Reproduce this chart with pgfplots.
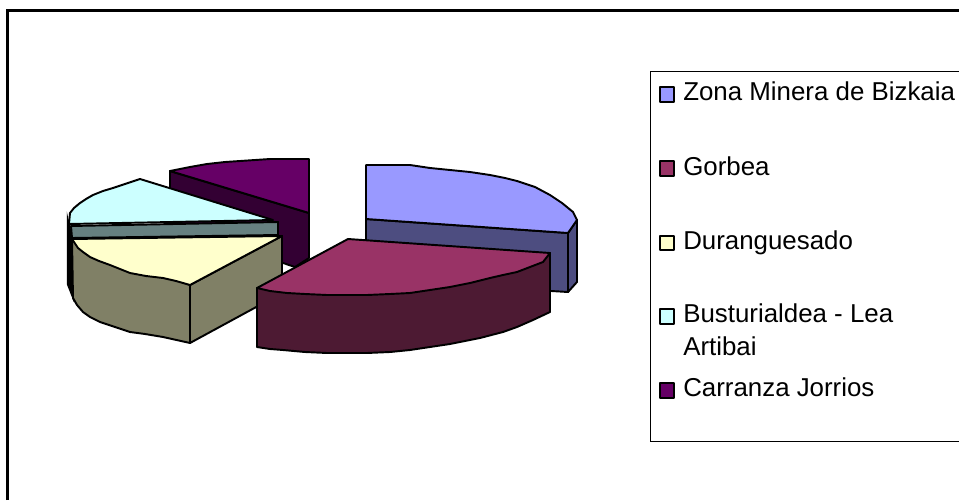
\documentclass[border=0pt]{standalone}
\usepackage{pgfplots}
\pgfplotsset{compat=1.18}
\usepackage{fontspec}
\setmainfont{Liberation Sans}
\definecolor{cBlue}{HTML}{9999FF}\definecolor{sBlue}{HTML}{4D4D80}
\definecolor{cMar}{HTML}{993366}\definecolor{sMar}{HTML}{4D1A33}
\definecolor{cYel}{HTML}{FFFFCC}\definecolor{sYel}{HTML}{808066}
\definecolor{cCya}{HTML}{CCFFFF}\definecolor{sCya}{HTML}{668080}
\definecolor{cPur}{HTML}{660066}\definecolor{sPur}{HTML}{330033}
\pgfplotsset{pie/.style={draw=black,line width=1.45pt,line join=round,no markers,fill=#1}}
\newcommand{\leg}[2]{\node[anchor=base west,inner sep=0pt,font=\fontsize{19.4pt}{22pt}\selectfont] at (axis cs:683,#1) {#2};}
\begin{document}
\begin{tikzpicture}
\begin{axis}[hide axis,scale only axis,width=719.25pt,height=375pt,
  xmin=0,xmax=959,ymin=0,ymax=500,y dir=reverse]
\addplot[draw=none,no markers] coordinates {(0,0)(959,500)};
% frame
\addplot[draw=black,line width=1.6pt,no markers] coordinates {(7.5,500)(7.5,10.5)(959,10.5)};
\addplot[draw=black,line width=0.75pt,no markers] coordinates {(959,71)(650.5,71)(650.5,441.5)(959,441.5)};
% blue
\addplot[pie=sBlue] coordinates {(366,219)(568,233)(568,292)(366,280)} --cycle;
\addplot[pie=sBlue] coordinates {(568,233)(577,220)(577,282)(568,292)} --cycle;
\addplot[pie=cBlue] coordinates {(366,165)(410,165)(430,168)(450,170)(470,172)(490,175)(505,178)(517,181)(535,187)(550,195)(562,203)(573,212)(577,220)(568,233)(366,219)} --cycle;
% purple
\addplot[pie=sPur] coordinates {(170,171)(309,213)(309,258)(295,267)(170,225)} --cycle;
\addplot[pie=cPur] coordinates {(170,171)(190,167)(207,164)(225,162)(240,161)(270,159)(309,159)(309,213)} --cycle;
% cyan
\addplot[draw=black,fill=black,line width=1.1pt,no markers] coordinates {(67.5,218)(72,238)(73,298)(67.5,284)} --cycle;
\addplot[pie=cCya] coordinates {(140,179)(125,184)(113,188)(103,191)(93,195)(86,199)(80,203)(74,208)(70,213)(69,224)(273,220)} --cycle;
\addplot[pie=sCya] coordinates {(71,226)(278,222)(278,235)(72,238)} --cycle;
% yellow
\addplot[pie=sYel] coordinates {(72,239)(190,285)(190,343)(163,337)(145,334)(130,332)(115,327)(100,322)(90,317)(83,312)(77,305)(73,298)} --cycle;
\addplot[pie=sYel] coordinates {(190,285)(282,236)(282,293)(190,343)} --cycle;
\addplot[pie=cYel] coordinates {(72,239)(282,236)(190,285)(176,281)(163,278)(146,276)(130,273)(120,269)(110,265)(99,261)(90,257)(83,252)(78,248)} --cycle;
% maroon
\addplot[pie=sMar] coordinates {(257,288)(550,253)(550,312)(533,320)(517,327)(503,332)(480,338)(450,344)(430,347)(410,350)(390,352)(367,353)(327,353)(305,352)(283,350)(270,349)(257,347)} --cycle;
\addplot[pie=cMar] coordinates {(348,239)(550,253)(543,262)(530,267)(517,272)(503,275)(490,278)(470,283)(450,287)(430,290)(410,293)(390,294)(367,295)(327,295)(305,294)(287,293)(270,291)(257,288)} --cycle;
% legend swatches
\addplot[pie=cBlue] coordinates {(660,87)(674,87)(674,102)(660,102)} --cycle;
\addplot[pie=cMar] coordinates {(660,161)(674,161)(674,176)(660,176)} --cycle;
\addplot[pie=cYel] coordinates {(660,236)(674,236)(674,250)(660,250)} --cycle;
\addplot[pie=cCya] coordinates {(660,309)(674,309)(674,324)(660,324)} --cycle;
\addplot[pie=cPur] coordinates {(660,383)(674,383)(674,398)(660,398)} --cycle;
\leg{100.7}{Zona Minera de Bizkaia}
\leg{175}{Gorbea}
\leg{249}{Duranguesado}
\leg{322.7}{Busturialdea - Lea}
\leg{355}{Artibai}
\leg{396.7}{Carranza Jorrios}
\end{axis}
\end{tikzpicture}
\end{document}
